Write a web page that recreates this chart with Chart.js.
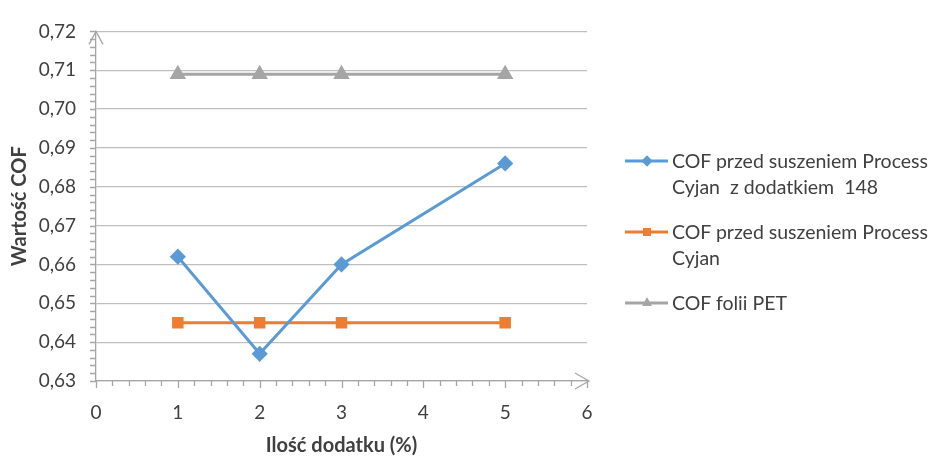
<!DOCTYPE html>
<html lang="pl">
<head>
<meta charset="utf-8">
<script src="https://cdn.jsdelivr.net/npm/chart.js@4.4.1/dist/chart.umd.min.js"></script>
<style>
  html, body { margin: 0; padding: 0; background: #fff; }
  #wrap { position: relative; width: 932px; height: 460px; }
  #legend { position: absolute; left: 625px; top: 148px; font-family: Lato, "Open Sans", sans-serif; font-size: 19.5px; color: #404040; }
  .item { display: flex; align-items: flex-start; margin-bottom: 19px; }
  .sample { position: relative; width: 43px; height: 26px; flex: none; margin-right: 4px; }
  .sample canvas { position: absolute; left: 0; top: 0; }
  .text { line-height: 26px; white-space: pre; }
</style>
</head>
<body>
<div id="wrap">
  <canvas id="chart" width="932" height="460"></canvas>
  <div id="legend"></div>
</div>
<script>
const xValues = [1, 2, 3, 5];
const cofCyjan148 = [0.662, 0.637, 0.660, 0.686];
const cofCyjan = [0.645, 0.645, 0.645, 0.645];
const cofPet = [0.709, 0.709, 0.709, 0.709];

const seriesLabels = [
  ["COF przed suszeniem Process", "Cyjan  z dodatkiem  148"],
  ["COF przed suszeniem Process", "Cyjan"],
  ["COF folii PET"],
];

const yMin = 0.63, yMax = 0.72, yStep = 0.01;
const xMin = 0, xMax = 6, xStep = 1;

const axisColor = "#a6a6a6";
const textColor = "#404040";
const fontFamily = "Lato, 'Open Sans', sans-serif";

const toPoints = (values) => values.map((v, i) => ({ x: xValues[i], y: v }));

// tick marks (major + 5 minor subdivisions) and open arrowheads on both axes
const axisDecor = {
  id: "axisDecor",
  afterDraw(chart) {
    const { ctx, chartArea, scales } = chart;
    const xs = scales.x, ys = scales.y;
    ctx.save();
    ctx.strokeStyle = axisColor;
    ctx.lineWidth = 1.3;
    ctx.beginPath();
    for (let i = 0; i <= (yMax - yMin) / yStep * 5 + 0.5; i++) {
      const y = Math.round(ys.getPixelForValue(yMin + i * yStep / 5)) + 0.5;
      ctx.moveTo(chartArea.left - 6, y);
      ctx.lineTo(chartArea.left, y);
    }
    for (let i = 0; i <= (xMax - xMin) / xStep * 5; i++) {
      const x = Math.round(xs.getPixelForValue(xMin + i * xStep / 5)) + 0.5;
      const len = i % 5 === 0 ? 7 : 5;
      ctx.moveTo(x, chartArea.bottom);
      ctx.lineTo(x, chartArea.bottom + len);
    }
    ctx.stroke();

    ctx.beginPath();
    const ax = chartArea.left, ay = chartArea.top;
    ctx.moveTo(ax - 7, ay + 13);
    ctx.lineTo(ax, ay);
    ctx.lineTo(ax + 7, ay + 13);
    const bx = chartArea.right + 2, by = chartArea.bottom;
    ctx.moveTo(bx - 14, by - 8);
    ctx.lineTo(bx, by);
    ctx.lineTo(bx - 14, by + 8);
    ctx.stroke();
    ctx.restore();
  },
};

const chart = new Chart(document.getElementById("chart"), {
  type: "line",
  data: {
    datasets: [
      { label: seriesLabels[0], data: toPoints(cofCyjan148), borderColor: "#5b9bd5", backgroundColor: "#5b9bd5", pointStyle: "rectRot", pointRadius: 6, borderWidth: 3 },
      { label: seriesLabels[1], data: toPoints(cofCyjan), borderColor: "#ed7d31", backgroundColor: "#ed7d31", pointStyle: "rect", pointRadius: 6, borderWidth: 3 },
      { label: seriesLabels[2], data: toPoints(cofPet), borderColor: "#a5a5a5", backgroundColor: "#a5a5a5", pointStyle: "triangle", pointRadius: 6.5, borderWidth: 3 },
    ],
  },
  options: {
    responsive: false,
    animation: false,
    layout: { padding: { top: 27, right: 345, left: 0, bottom: 0 } },
    plugins: { legend: { display: false }, tooltip: { enabled: false } },
    elements: { line: { tension: 0 }, point: { borderWidth: 0 } },
    scales: {
      x: {
        type: "linear",
        min: xMin,
        max: xMax,
        ticks: { stepSize: xStep, color: textColor, padding: 20, font: { family: fontFamily, size: 19 } },
        grid: { display: false, drawTicks: false },
        border: { display: true, color: axisColor, width: 1.3 },
        title: { display: true, text: "Ilość dodatku (%)", color: textColor, padding: { top: 0, bottom: 2 }, font: { family: fontFamily, size: 20, weight: "bold" } },
        afterFit: (scale) => { scale.height = 79; },
      },
      y: {
        min: yMin,
        max: yMax,
        ticks: {
          stepSize: yStep,
          color: textColor,
          padding: 20,
          font: { family: fontFamily, size: 19 },
          callback: (v) => v.toFixed(2).replace(".", ","),
        },
        grid: { color: "#bfbfbf", lineWidth: 1.3, drawTicks: false },
        border: { display: true, color: axisColor, width: 1.3 },
        title: { display: true, text: "Wartość COF", color: textColor, padding: { top: 8, bottom: 0 }, font: { family: fontFamily, size: 20, weight: "bold" } },
        afterFit: (scale) => { scale.width = 96; },
      },
    },
  },
  plugins: [axisDecor],
});

// legend built from the datasets, wrapped on two lines like the series names
const legend = document.getElementById("legend");
chart.data.datasets.forEach((ds) => {
  const item = document.createElement("div");
  item.className = "item";
  const sample = document.createElement("div");
  sample.className = "sample";
  const c = document.createElement("canvas");
  c.width = 43; c.height = 26;
  const g = c.getContext("2d");
  g.strokeStyle = ds.borderColor;
  g.lineWidth = 3;
  g.beginPath(); g.moveTo(0, 13); g.lineTo(43, 13); g.stroke();
  g.fillStyle = ds.backgroundColor;
  Chart.helpers.drawPoint(g, { pointStyle: ds.pointStyle, radius: 5.5, borderWidth: 0, rotation: 0 }, 22, 13);
  g.fill();
  sample.appendChild(c);
  const text = document.createElement("div");
  text.className = "text";
  text.textContent = ds.label.join("\n");
  item.appendChild(sample);
  item.appendChild(text);
  legend.appendChild(item);
});
</script>
</body>
</html>
